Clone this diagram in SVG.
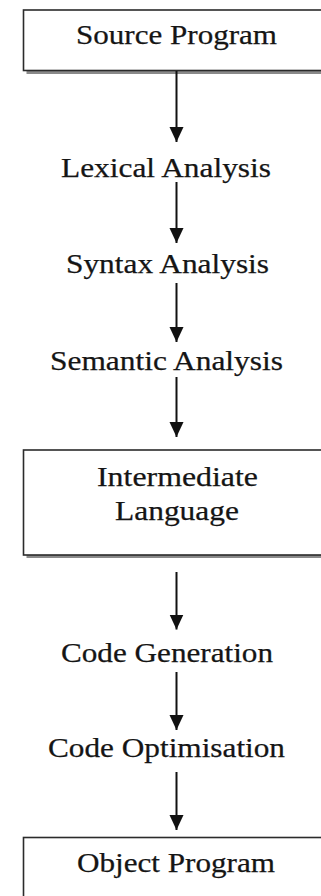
<svg xmlns="http://www.w3.org/2000/svg" width="321" height="896" viewBox="0 0 321 896">
<style>
.lbl{font-family:"Liberation Serif","Times New Roman",serif;font-size:28px;fill:#151515;stroke:#151515;stroke-width:0.25;}
.box{fill:#fff;stroke:#2b2b2b;stroke-width:1.6;}
.shadow{fill:#8a8a8a;}
.conn{stroke:#111;stroke-width:2;fill:none;marker-end:url(#arr);}
</style>
<defs>
<marker id="arr" markerUnits="userSpaceOnUse" markerWidth="16" markerHeight="16" viewBox="0 0 16 16" refX="15" refY="8" orient="auto">
<path d="M0,1 L15,8 L0,15 Z" fill="#111"/>
</marker>
</defs>
<rect width="321" height="896" fill="#fff"/>
<g id="source-program">
<rect class="shadow" x="26.5" y="13" width="330" height="61"/>
<rect class="box" x="23.5" y="10" width="330" height="60.5"/>
<text class="lbl" x="76" y="44" textLength="201" lengthAdjust="spacingAndGlyphs">Source Program</text>
</g>
<g id="lexical-analysis">
<text class="lbl" x="61" y="177" textLength="210" lengthAdjust="spacingAndGlyphs">Lexical Analysis</text>
</g>
<g id="syntax-analysis">
<text class="lbl" x="66" y="273" textLength="203" lengthAdjust="spacingAndGlyphs">Syntax Analysis</text>
</g>
<g id="semantic-analysis">
<text class="lbl" x="50" y="370" textLength="233" lengthAdjust="spacingAndGlyphs">Semantic Analysis</text>
</g>
<g id="intermediate-language">
<rect class="shadow" x="26.5" y="453" width="330" height="105"/>
<rect class="box" x="23.5" y="450" width="330" height="105"/>
<text class="lbl" x="97" y="486" textLength="161" lengthAdjust="spacingAndGlyphs">Intermediate</text>
<text class="lbl" x="115" y="520" textLength="124" lengthAdjust="spacingAndGlyphs">Language</text>
</g>
<g id="code-generation">
<text class="lbl" x="61" y="662" textLength="212" lengthAdjust="spacingAndGlyphs">Code Generation</text>
</g>
<g id="code-optimisation">
<text class="lbl" x="48" y="757" textLength="237" lengthAdjust="spacingAndGlyphs">Code Optimisation</text>
</g>
<g id="object-program">
<rect class="shadow" x="26.5" y="840" width="330" height="80"/>
<rect class="box" x="23.5" y="837.5" width="330" height="80"/>
<text class="lbl" x="77" y="872" textLength="198" lengthAdjust="spacingAndGlyphs">Object Program</text>
</g>
<g id="connectors">
<line class="conn" x1="176.5" y1="71" x2="176.5" y2="142"/>
<line class="conn" x1="176.5" y1="182" x2="176.5" y2="243"/>
<line class="conn" x1="176.5" y1="283" x2="176.5" y2="342"/>
<line class="conn" x1="176.5" y1="377" x2="176.5" y2="437"/>
<line class="conn" x1="176.5" y1="572" x2="176.5" y2="629.5"/>
<line class="conn" x1="176.5" y1="672" x2="176.5" y2="730"/>
<line class="conn" x1="176.5" y1="772" x2="176.5" y2="830"/>
</g>
</svg>
